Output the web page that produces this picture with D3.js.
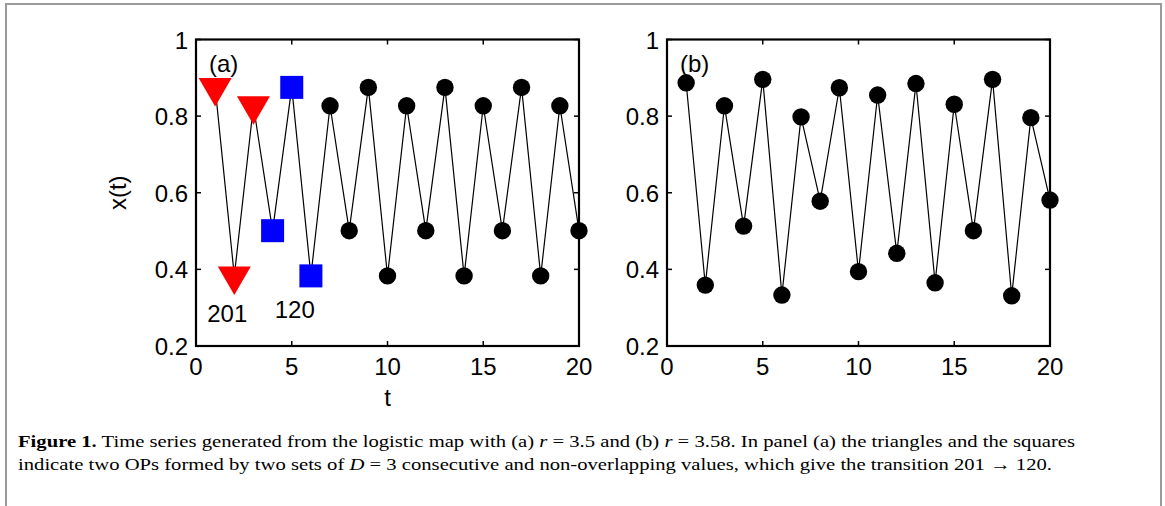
<!DOCTYPE html>
<html>
<head>
<meta charset="utf-8">
<script src="https://cdn.jsdelivr.net/npm/d3@7"></script>
<style>
  body { margin: 0; background: #fff; }
  svg { display: block; }
</style>
</head>
<body>
<div id="fig"></div>
<script>
// time steps and values
const steps = d3.range(1, 21);
const seriesA = [0.875, 0.383, 0.827, 0.501, 0.875, 0.383, 0.827, 0.501, 0.875, 0.383,
                 0.827, 0.501, 0.875, 0.383, 0.827, 0.501, 0.875, 0.383, 0.827, 0.501];
const seriesB = [0.887, 0.359, 0.827, 0.513, 0.896, 0.333, 0.798, 0.578, 0.874, 0.394,
                 0.855, 0.442, 0.885, 0.365, 0.831, 0.501, 0.896, 0.331, 0.796, 0.581];
const xTicks = [0, 5, 10, 15, 20];
const yTicks = [0.2, 0.4, 0.6, 0.8, 1];
const yTickLabels = ['0.2', '0.4', '0.6', '0.8', '1'];
// which points of panel (a) form the two ordinal patterns
const triangleSteps = [1, 2, 3];
const squareSteps = [4, 5, 6];

const W = 1165, H = 506;
const svg = d3.select('#fig').append('svg').attr('width', W).attr('height', H);

// page frame
svg.append('path')
  .attr('d', `M6,${H} V4 H1161 V${H}`)
  .attr('fill', 'none')
  .attr('stroke', '#9a9a9a')
  .attr('stroke-width', 2);

const font = '"Liberation Sans", Arial, sans-serif';
const y = d3.scaleLinear().domain([0.2, 1]).range([346, 39.5]);

function panel(left, values, tag, showXLabel) {
  const x = d3.scaleLinear().domain([0, 20]).range([left, left + 383]);
  const g = svg.append('g');

  // ticks (inward on all four sides)
  const tl = 5;
  xTicks.forEach(t => {
    g.append('line').attr('x1', x(t)).attr('x2', x(t)).attr('y1', y(0.2)).attr('y2', y(0.2) - tl)
      .attr('stroke', '#000').attr('stroke-width', 1.5);
    g.append('line').attr('x1', x(t)).attr('x2', x(t)).attr('y1', y(1)).attr('y2', y(1) + tl)
      .attr('stroke', '#000').attr('stroke-width', 1.5);
    g.append('text').attr('x', x(t)).attr('y', y(0.2) + 29)
      .attr('text-anchor', 'middle').style('font-family', font).style('font-size', '24px')
      .text(t);
  });
  yTicks.forEach((v, i) => {
    g.append('line').attr('x1', x(0)).attr('x2', x(0) + tl).attr('y1', y(v)).attr('y2', y(v))
      .attr('stroke', '#000').attr('stroke-width', 1.5);
    g.append('line').attr('x1', x(20)).attr('x2', x(20) - tl).attr('y1', y(v)).attr('y2', y(v))
      .attr('stroke', '#000').attr('stroke-width', 1.5);
    g.append('text').attr('x', x(0) - 8).attr('y', y(v) + 9)
      .attr('text-anchor', 'end').style('font-family', font).style('font-size', '24px')
      .text(yTickLabels[i]);
  });

  // box
  g.append('rect')
    .attr('x', x(0)).attr('y', y(1))
    .attr('width', x(20) - x(0)).attr('height', y(0.2) - y(1))
    .attr('fill', 'none').attr('stroke', '#000').attr('stroke-width', 2.2);

  // series line
  const pts = steps.map((t, i) => [t, values[i]]);
  g.append('path')
    .datum(pts)
    .attr('d', d3.line().x(d => x(d[0])).y(d => y(d[1])))
    .attr('fill', 'none').attr('stroke', '#000').attr('stroke-width', 1.2);

  // markers
  pts.forEach(d => {
    const cx = x(d[0]), cy = y(d[1]);
    if (tag === '(a)' && triangleSteps.includes(d[0])) {
      g.append('path')
        .attr('transform', `translate(${cx},${cy})`)
        .attr('d', 'M-16.5,-9.5 L16.5,-9.5 L0,19 Z')
        .attr('fill', '#ff0000');
    } else if (tag === '(a)' && squareSteps.includes(d[0])) {
      g.append('rect')
        .attr('x', cx - 11.5).attr('y', cy - 11.5)
        .attr('width', 23).attr('height', 23)
        .attr('fill', '#0000ff');
    } else {
      g.append('circle').attr('cx', cx).attr('cy', cy).attr('r', 8.7).attr('fill', '#000');
    }
  });

  // panel tag
  g.append('text').attr('x', x(0) + 13).attr('y', y(1) + 32)
    .style('font-family', font).style('font-size', '24px').text(tag);

  if (showXLabel) {
    g.append('text').attr('x', x(10)).attr('y', y(0.2) + 60)
      .attr('text-anchor', 'middle').style('font-family', font).style('font-size', '24px')
      .text('t');
    g.append('text')
      .attr('transform', `translate(${x(0) - 70},${y(0.6)}) rotate(-90)`)
      .attr('text-anchor', 'middle').style('font-family', font).style('font-size', '24px')
      .text('x(t)');
    // pattern labels
    g.append('text').attr('x', x(2) - 7).attr('y', 322)
      .attr('text-anchor', 'middle').style('font-family', font).style('font-size', '24px')
      .text('201');
    g.append('text').attr('x', x(5) + 3).attr('y', 318)
      .attr('text-anchor', 'middle').style('font-family', font).style('font-size', '24px')
      .text('120');
  }
}

panel(196, seriesA, '(a)', true);
panel(667, seriesB, '(b)', false);

// caption
const serif = '"Liberation Serif", "Times New Roman", serif';
const cap1 = svg.append('text').attr('x', 18).attr('y', 447)
  .style('font-family', serif).style('font-size', '17.5px')
  .attr('textLength', 1057).attr('lengthAdjust', 'spacingAndGlyphs');
cap1.append('tspan').style('font-weight', 'bold').text('Figure 1.');
cap1.append('tspan').text(' Time series generated from the logistic map with (a) ');
cap1.append('tspan').style('font-style', 'italic').text('r');
cap1.append('tspan').text(' = 3.5 and (b) ');
cap1.append('tspan').style('font-style', 'italic').text('r');
cap1.append('tspan').text(' = 3.58. In panel (a) the triangles and the squares');

const cap2 = svg.append('text').attr('x', 18).attr('y', 470)
  .style('font-family', serif).style('font-size', '17.5px')
  .attr('textLength', 1034).attr('lengthAdjust', 'spacingAndGlyphs');
cap2.append('tspan').text('indicate two OPs formed by two sets of ');
cap2.append('tspan').style('font-style', 'italic').text('D');
cap2.append('tspan').text(' = 3 consecutive and non-overlapping values, which give the transition 201 \u2192 120.');
</script>
</body>
</html>
